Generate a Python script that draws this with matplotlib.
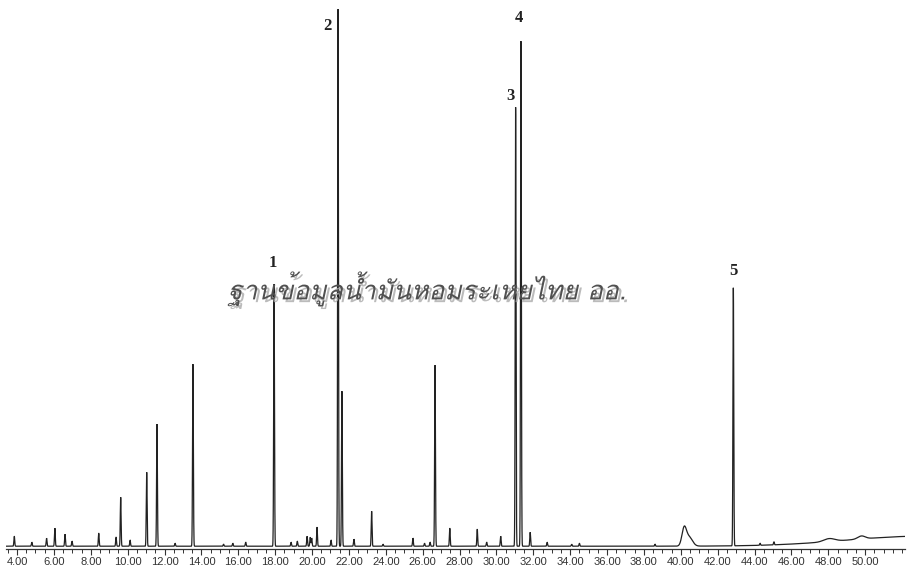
import numpy as np
import matplotlib
matplotlib.use("Agg")
import matplotlib.pyplot as plt
import matplotlib.patheffects as pe
from matplotlib import font_manager
from matplotlib.ft2font import FT2Font

# ---------------- data ----------------
peak_times = [3.85, 4.80, 5.60, 6.05, 6.60, 6.98, 8.43, 9.37, 9.62, 10.13,
              11.03, 11.59, 12.57, 13.54, 15.20, 15.70, 16.40, 17.94, 18.86, 19.20,
              19.73, 19.90, 19.98, 20.27, 21.03, 21.41, 21.62, 22.27, 23.23, 23.85,
              25.47, 26.10, 26.40, 26.67, 27.47, 28.96, 29.47, 30.23, 31.04, 31.33,
              31.83, 32.75, 34.08, 34.50, 38.60, 42.85, 44.30, 45.05]
peak_heights = [10, 4, 8, 18, 12, 5, 13, 9, 49, 6,
                74, 122, 3, 182, 2, 3, 4, 262, 4, 5,
                10, 9, 8, 19, 6, 537, 155, 7, 35, 2,
                8, 3, 4, 181, 18, 17, 4, 10, 439, 505,
                14, 4, 2, 3, 2, 258, 2, 3]

# broad humps / baseline drift: centre, height, width
broad_times = [40.18, 40.45, 48.05, 49.80, 53.0]
broad_heights = [17, 9, 3, 3, 10]
broad_widths = [0.12, 0.18, 0.30, 0.20, 4.0]

peak_labels = ["1", "2", "3", "4", "5"]
label_peak_times = [17.94, 21.41, 31.04, 31.33, 42.85]

tick_values = np.arange(4, 51, 2)
tick_labels = [f"{v:.2f}" for v in tick_values]

watermark = "ฐานข้อมูลน้ำมันหอมระเหยไทย ออ."

# ---------------- fonts ----------------
def find_thai_font():
    best = None
    for f in font_manager.fontManager.ttflist:
        try:
            cmap = FT2Font(f.fname).get_charmap()
        except Exception:
            continue
        if 0x0E10 in cmap and 0x0E33 in cmap:
            score = 0
            if f.style in ("italic", "oblique"):
                score += 2
            if best is None or score > best[0]:
                best = (score, f.name)
    return best[1] if best else None

thai_font = find_thai_font()
wm_family = [thai_font, "DejaVu Sans"] if thai_font else ["DejaVu Sans"]

available = {f.name for f in font_manager.fontManager.ttflist}
tick_family = "Liberation Sans Narrow" if "Liberation Sans Narrow" in available else "Liberation Sans"

# ---------------- signal ----------------
t = np.arange(3.40, 52.17, 0.002)
sig = np.full_like(t, 0.8)
for c, h in zip(peak_times, peak_heights):
    sig += h * np.exp(-0.5 * ((t - c) / 0.022) ** 2)
for c, h, w in zip(broad_times, broad_heights, broad_widths):
    sig += h * np.exp(-0.5 * ((t - c) / w) ** 2)

# ---------------- figure ----------------
W, H = 908, 568
fig = plt.figure(figsize=(W / 100, H / 100), dpi=100)
x0, x1 = 6, 905
y_base = 547
ax = fig.add_axes([x0 / W, (H - y_base - 2) / H, (x1 - x0) / W, (y_base + 2) / H])
ax.plot(t, sig, color="#222222", lw=0.9, solid_joinstyle="miter")
ax.set_xlim(3.40, 52.16)
ax.set_ylim(-2, y_base)

for s in ("top", "right", "left"):
    ax.spines[s].set_visible(False)
ax.spines["bottom"].set_color("#333333")
ax.spines["bottom"].set_linewidth(0.9)
ax.set_yticks([])
ax.set_xticks(tick_values)
ax.set_xticklabels(tick_labels, fontsize=8, family=tick_family, color="#222222")
ax.set_xticks(np.arange(3.5, 52.1, 0.5), minor=True)
ax.tick_params(axis="x", which="major", direction="out", length=4, width=0.8,
               pad=1.5, colors="#333333")
ax.tick_params(axis="x", which="minor", direction="out", length=3, width=0.7,
               colors="#333333")

# peak labels
label_offsets = [(-1, 22), (-11, -16), (-5, 12), (-2, 24), (0, 18)]
for lab, pt_, (dx, dy) in zip(peak_labels, label_peak_times, label_offsets):
    h = peak_heights[peak_times.index(pt_)]
    ax.annotate(lab, xy=(pt_, h), xytext=(dx, dy), textcoords="offset pixels",
                ha="center", va="center", fontsize=12, fontweight="bold",
                family="Liberation Serif", color="#222222")

# watermark
fig.text(427 / W, 1 - 289 / H, watermark, ha="center", va="center",
         fontsize=19, style="italic", family=wm_family, color="#505050",
         path_effects=[pe.withSimplePatchShadow(offset=(2, -2),
                                                shadow_rgbFace="#aaaaaa", alpha=0.8)])

fig.savefig("out.png", dpi=100, facecolor="white")
